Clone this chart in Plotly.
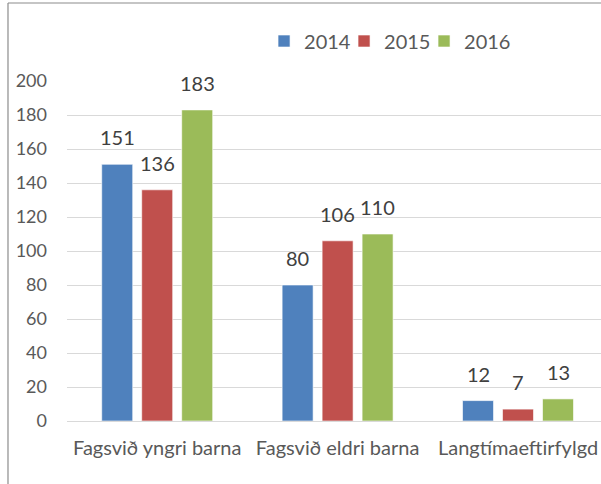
import plotly.graph_objects as go

categories = ["Fagsvið yngri barna", "Fagsvið eldri barna", "Langtímaeftirfylgd"]
years = ["2014", "2015", "2016"]
values_2014 = [151, 80, 12]
values_2015 = [136, 106, 7]
values_2016 = [183, 110, 13]
series_values = [values_2014, values_2015, values_2016]
colors = ["#4F81BD", "#C0504D", "#9BBB59"]
y_ticks = [0, 20, 40, 60, 80, 100, 120, 140, 160, 180, 200]

FONT = "Lato, Carlito, Calibri, sans-serif"

fig = go.Figure()
for name, vals, col in zip(years, series_values, colors):
    fig.add_trace(go.Bar(
        name=name, x=categories, y=vals,
        marker=dict(color=col, line=dict(color="rgba(255,255,255,0.6)", width=1)),
    ))
# invisible spacer entry so the last legend label is not clipped
fig.add_trace(go.Scatter(name=" ", x=[categories[0]], y=[0], mode="markers",
                         marker=dict(color="rgba(0,0,0,0)", size=1),
                         visible="legendonly", hoverinfo="skip"))

# data labels above bars
annotations = []
for i, vals in enumerate(series_values):
    for j, v in enumerate(vals):
        annotations.append(dict(
            x=j, y=v, xref="x", yref="y", text=str(v), showarrow=False,
            xshift=(i - 1) * 40, yshift=13, yanchor="bottom",
            font=dict(family=FONT, size=20, color="#404040"),
        ))

fig.update_layout(
    width=601, height=484,
    margin=dict(l=67, r=0, t=81, b=63),
    paper_bgcolor="white", plot_bgcolor="white",
    barmode="group", bargap=0.335, bargroupgap=0.225,
    font=dict(family=FONT, color="#595959"),
    showlegend=True,
    legend=dict(orientation="h", x=0.369, xanchor="left", y=1.1176, yanchor="middle",
                font=dict(family=FONT, size=20, color="#595959"),
                itemwidth=30, traceorder="normal", entrywidth=35, entrywidthmode="pixels",
                itemclick=False, itemdoubleclick=False),
    annotations=annotations,
    shapes=[
        dict(type="line", xref="paper", yref="paper", x0=-0.1105, x1=1.05, y0=1.2294, y1=1.2294,
             line=dict(color="#8C8C8C", width=1.2)),
        dict(type="line", xref="paper", yref="paper", x0=-0.1105, x1=-0.1105, y0=1.2294, y1=-0.3,
             line=dict(color="#8C8C8C", width=1.2)),
    ],
)
fig.update_xaxes(
    type="category", range=[-0.5, 2.46], showgrid=False, showline=False, zeroline=False,
    ticks="", tickfont=dict(family=FONT, size=20, color="#595959"), ticklabelstandoff=13,
)
fig.update_yaxes(
    range=[0, 200], tickvals=y_ticks, showgrid=True, gridcolor="#D9D9D9", gridwidth=1,
    zeroline=True, zerolinecolor="#D9D9D9", zerolinewidth=1, showline=False, ticks="",
    tickfont=dict(family=FONT, size=18, color="#595959"), ticklabelstandoff=19,
)
for t in fig.data:
    if t.type == "bar":
        t.cliponaxis = False

fig.write_html("out.html", config={"displayModeBar": False},
               post_script="document.body.style.margin='0';document.body.style.overflow='hidden';")
